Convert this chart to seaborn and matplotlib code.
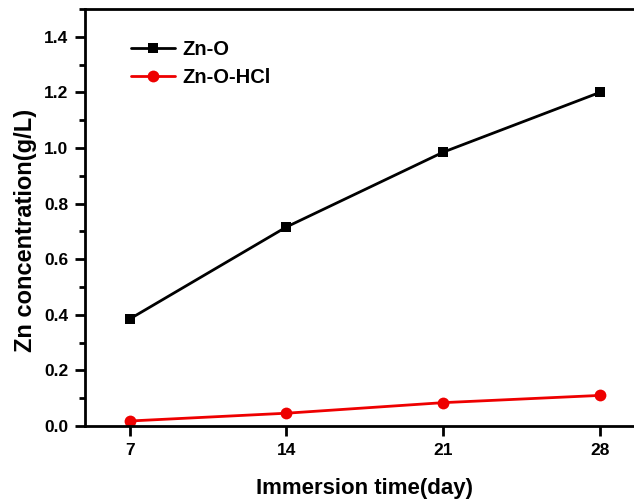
import matplotlib
matplotlib.use("Agg")
import matplotlib.pyplot as plt
import seaborn as sns
import pandas as pd
from matplotlib.ticker import MultipleLocator

days = [7, 14, 21, 28]
zn_o = [0.385, 0.716, 0.985, 1.200]
zn_o_hcl = [0.018, 0.046, 0.084, 0.110]
series_names = ["Zn-O", "Zn-O-HCl"]
ytick_vals = [0, 0.2, 0.4, 0.6, 0.8, 1.0, 1.2, 1.4]
ytick_labels = ["0.0", "0.2", "0.4", "0.6", "0.8", "1.0", "1.2", "1.4"]

df = pd.DataFrame({
    "day": days * 2,
    "conc": zn_o + zn_o_hcl,
    "series": [series_names[0]] * 4 + [series_names[1]] * 4,
})

sns.set_style("ticks")
plt.rcParams["font.family"] = ["Liberation Sans", "DejaVu Sans"]
plt.rcParams["font.weight"] = "bold"
plt.rcParams["text.color"] = "black"
plt.rcParams["axes.labelcolor"] = "black"
plt.rcParams["xtick.color"] = "black"
plt.rcParams["ytick.color"] = "black"

fig = plt.figure(figsize=(6.34, 4.99), dpi=100)
ax = fig.add_axes([0.134, 0.1463, 0.95, 0.8357])

sns.lineplot(data=df, x="day", y="conc", hue="series", style="series",
             markers={"Zn-O": "s", "Zn-O-HCl": "o"}, dashes=False,
             palette={"Zn-O": "black", "Zn-O-HCl": "#ee0000"},
             linewidth=2, markeredgewidth=0, ax=ax)
for line, ms in zip(ax.lines, [7.5, 8.5]):
    line.set_markersize(ms)

ax.set_xlim(5, 31.9)
ax.set_ylim(0, 1.5)
ax.set_xticks(days)
ax.yaxis.set_minor_locator(MultipleLocator(0.1))
ax.set_yticks(ytick_vals)
ax.set_yticklabels(ytick_labels)

for s in ax.spines.values():
    s.set_linewidth(2)
    s.set_color("black")
ax.spines["right"].set_visible(False)
ax.tick_params(axis="both", which="major", direction="out", length=7, width=2,
               labelsize=12.5, pad=5, colors="black", labelcolor="black")
ax.tick_params(axis="y", which="minor", direction="out", length=4, width=2)
for lab in ax.get_xticklabels() + ax.get_yticklabels():
    lab.set_fontweight("bold")

ax.set_xlabel("Immersion time(day)", fontsize=16, fontweight="bold", color="black")
ax.xaxis.set_label_coords((365 - 85) / (0.95 * 634), -0.125)
ax.set_ylabel("Zn concentration(g/L)", fontsize=17, fontweight="bold", color="black")
ax.yaxis.set_label_coords(-0.085 * 0.883 / 0.95, 0.47)

handles, labels = ax.get_legend_handles_labels()
for h, ms in zip(handles, [7.5, 8.5]):
    h.set_markersize(ms)
leg = ax.legend(handles, labels, loc="upper left",
                bbox_to_anchor=(0.05 * 0.883 / 0.95, 0.97),
                frameon=False, prop={"weight": "bold", "size": 14.5},
                handlelength=2.2, handletextpad=0.35, labelspacing=0.45)
for t in leg.get_texts():
    t.set_color("black")

fig.savefig("out.png", dpi=100)
